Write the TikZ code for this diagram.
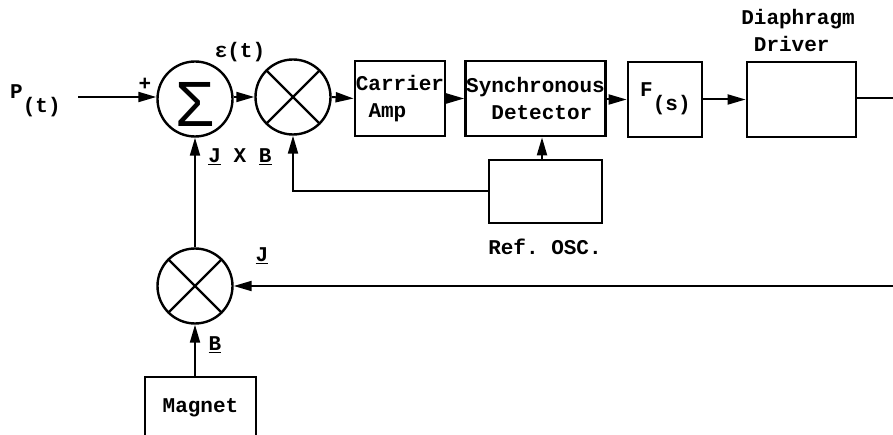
\documentclass[tikz,border=0pt]{standalone}
\usepackage{fontspec}
\usepackage{tikz}
\usetikzlibrary{positioning,arrows.meta,calc}
\newfontfamily\twfont{Liberation Mono}
\newfontfamily\sigmafont{Liberation Sans}
\frenchspacing
\tikzset{
  fbblk/.style={rectangle, draw=black, line width=2.8pt, inner sep=0pt,
                font=\twfont\bfseries\fontsize{21}{27}\selectfont, align=left},
  fbjct/.style={circle, draw=black, line width=2.4pt, minimum size=75pt,
                inner sep=0pt},
  fblab/.style={font=\twfont\bfseries\fontsize{21}{27}\selectfont, inner sep=0pt, align=left},
  fbsig/.style={draw=black, line width=2pt, -{Triangle[length=18pt,width=10pt]}},
  fbline/.style={draw=black, line width=2pt},
}
\newcommand{\fbCross}[1]{%
  \draw[line width=2.2pt] (#1.45) -- (#1.225) (#1.135) -- (#1.315);}

\begin{document}
\begin{tikzpicture}[x=1pt,y=-1pt]
  \useasboundingbox (0,0) rectangle (893,435);
  % forward path
  \node[fbjct] (sum) at (195,99) {};
  \node[font=\sigmafont\fontsize{64}{64}\selectfont, inner sep=0pt] (sigma) at (195,104) {Σ};
  \node[fbjct] (mA) at (293,97) {};
  \fbCross{mA}
  \node[fbblk, minimum width=90pt, minimum height=75pt] (amp) at (400,98.5)
       {Carrier\\\hphantom{x}Amp};
  \node[fbblk, minimum width=140pt, minimum height=75pt] (det) at (535.5,98.5)
       {Synchronous\\\hphantom{xx}Detector};
  \node[fbblk, minimum width=74pt, minimum height=75pt] (fs) at (665,99.5) {};
  \node[fblab, anchor=base west] (fslab) at (640,97) {F\raisebox{-14pt}{(s)}};
  \node[fbblk, minimum width=109pt, minimum height=75pt] (drv) at (801.5,99.5) {};
  \node[fblab] (drvlab) at (798,30) {Diaphragm\\\hphantom{x}Driver};
  \node[fbblk, minimum width=113pt, minimum height=63pt] (osc) at (545.5,191.5) {};
  \node[fblab] (osclab) at (545,247) {Ref. OSC.};
  % force path
  \node[fbjct] (mB) at (195,286) {};
  \fbCross{mB}
  \node[fbblk, minimum width=111pt, minimum height=61pt] (mag) at (200.5,407.5) {Magnet};
  % input, free ends
  \node[fblab, anchor=base west] (plab) at (10,99) {P\raisebox{-14pt}{(t)}};
  \coordinate (pin) at (78,97);
  \coordinate (outR) at (893,98);
  \coordinate (inR) at (893,286);
  % labels
  \node[fblab] (plus) at (145,84) {+};
  \node[fblab] (eps) at (240,52) {ε(t)};
  \node[fblab] (jxb) at (240,157) {\underline{J} X \underline{B}};
  \node[fblab] (jlab) at (262,256) {\underline{J}};
  \node[fblab] (blab) at (215,345) {\underline{B}};
  % connectors
  \draw[fbsig] (pin) -- (pin -| sum.west);
  \draw[fbsig] (sum.east |- mA) -- (mA.west);
  \draw[fbsig] (mA.east) -- (amp.west);
  \draw[fbsig] (amp.east) -- (det.west);
  \draw[fbsig] (det.east |- fs) -- (fs.west);
  \draw[fbsig] (fs.east) -- (drv.west);
  \draw[fbline] (drv.east |- outR) -- (outR);
  \draw[fbsig] (osc.north -| 542,0) -- (det.south -| 542,0);
  \draw[fbsig] (osc.west) -| (mA.south);
  \draw[fbsig] (inR) -- (mB.east);
  \draw[fbsig] (mB.north) -- (sum.south);
  \draw[fbsig] (mag.north -| mB) -- (mB.south);
\end{tikzpicture}
\end{document}
